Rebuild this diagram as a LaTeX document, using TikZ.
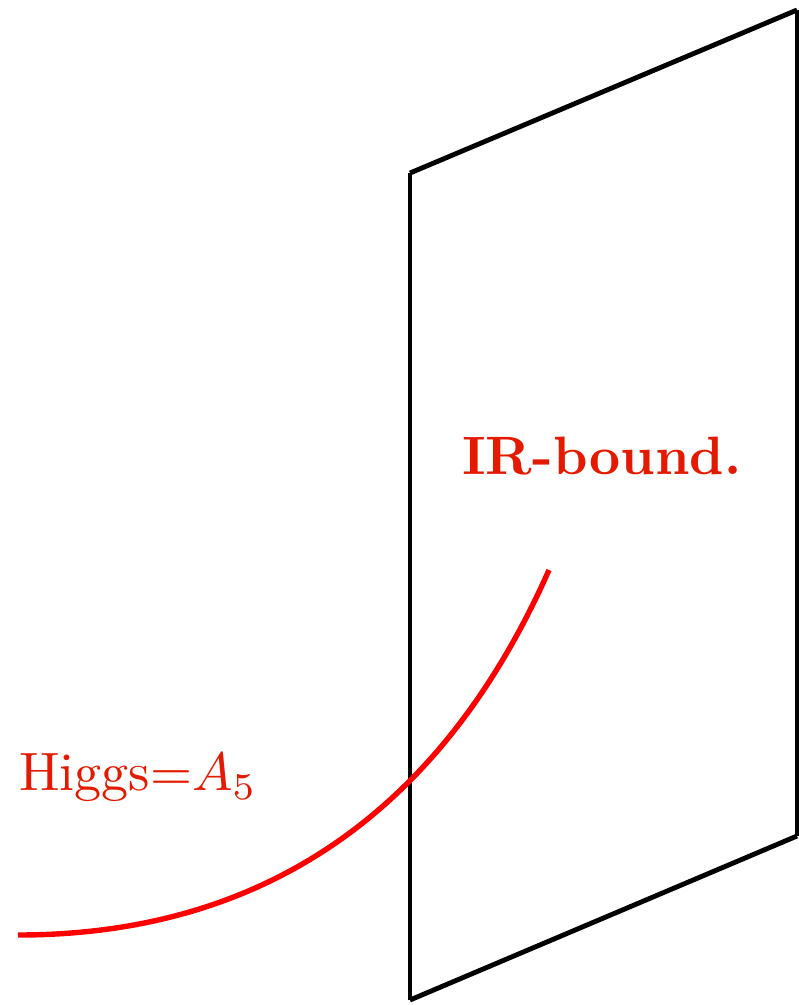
\documentclass[tikz,border=0pt]{standalone}
\definecolor{labelred}{RGB}{228,26,0}
\begin{document}
\begin{tikzpicture}[x=0.185pt,y=-0.185pt]
  \useasboundingbox (0,0) rectangle (799,1005);
  % brane corners
  \coordinate (tl) at (410,173);
  \coordinate (tr) at (797,10);
  \coordinate (br) at (797,836);
  \coordinate (bl) at (410,1000);
  \draw[line width=0.9pt] (tl) -- (tr);
  \draw[line width=0.9pt] (tr) -- (br);
  \draw[line width=0.9pt] (br) -- (bl);
  \draw[line width=0.9pt] (bl) -- (tl);
  % Higgs profile
  \coordinate (hstart) at (18,935);
  \coordinate (hend) at (549,570);
  \draw[red, line width=1pt] (hstart) .. controls (270,935) and (445,805) .. (hend);
  \node[labelred, font=\bfseries] (ir) at (602,456) {IR-bound.};
  \node[labelred] (higgs) at (138,778) {Higgs=$A_5$};
\end{tikzpicture}
\end{document}
